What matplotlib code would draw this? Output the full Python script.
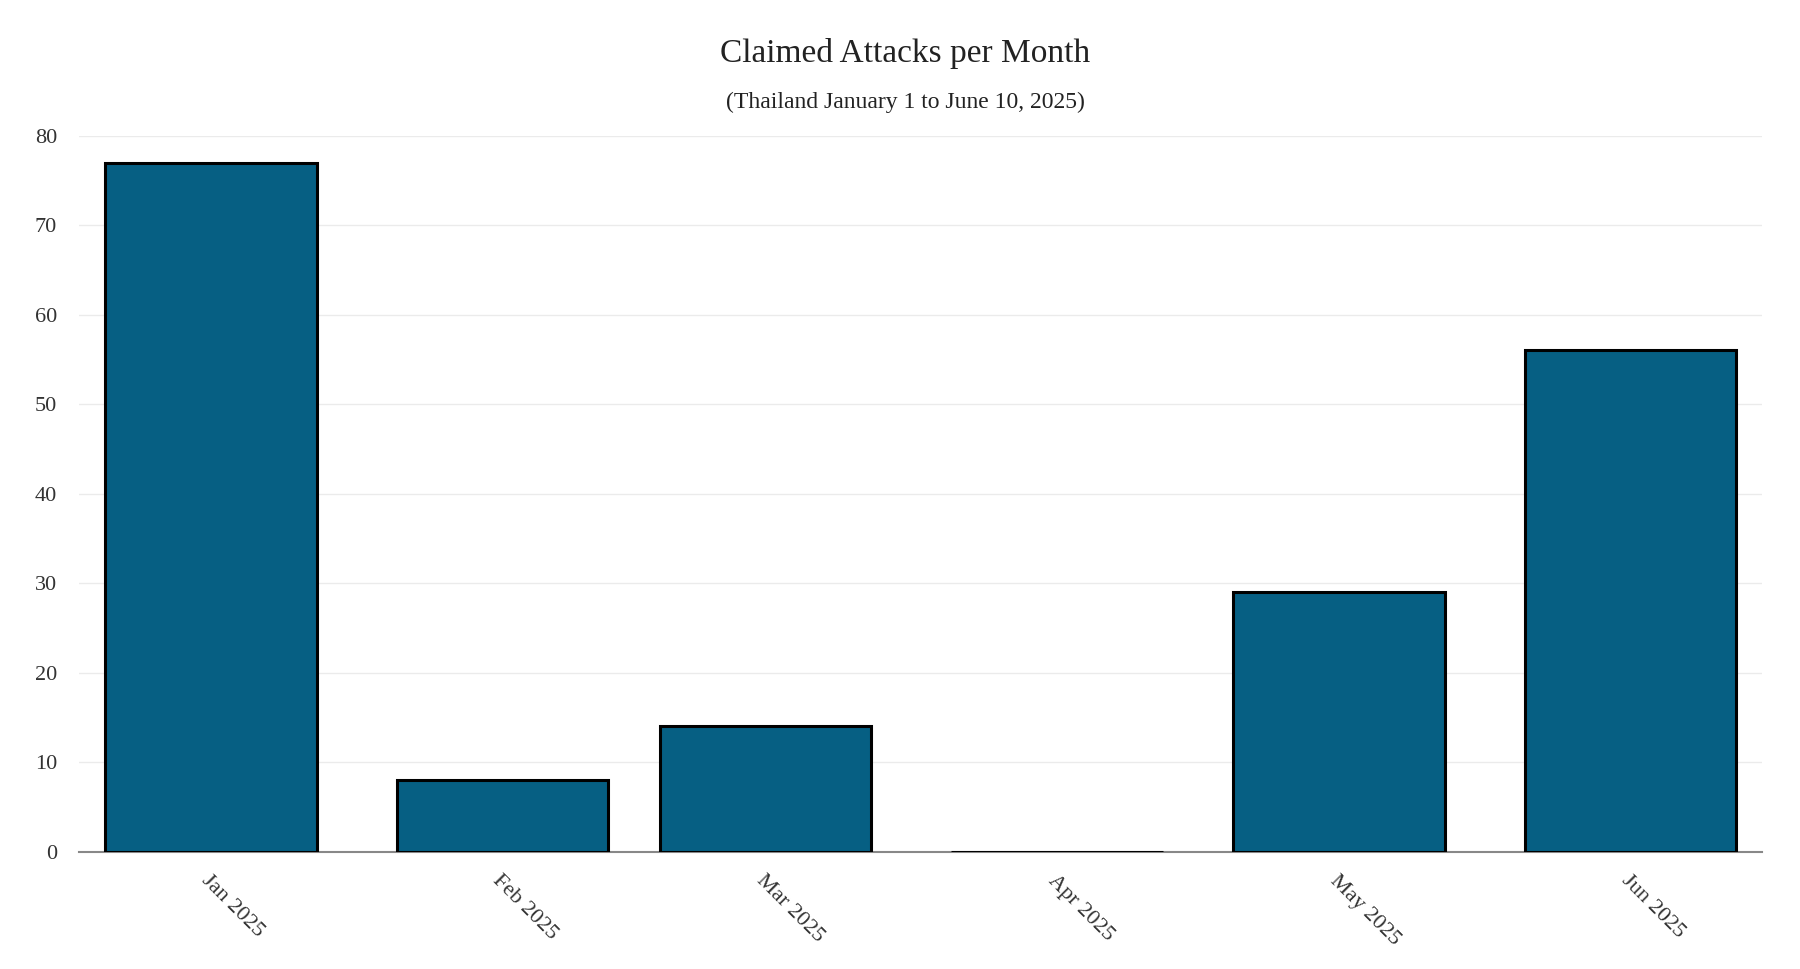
import numpy as np
import matplotlib.pyplot as plt

months = ['Jan 2025', 'Feb 2025', 'Mar 2025', 'Apr 2025', 'May 2025', 'Jun 2025']
month_start_day = [0, 31, 59, 90, 120, 151]   # days from Jan 1
attacks = [77, 8, 14, 0, 29, 56]

plt.rcParams['font.family'] = 'Liberation Serif'

fig = plt.figure(figsize=(18, 9.69), dpi=100)
ax = fig.add_axes([0.044, 0.121, 0.935, 0.739])

ax.bar(month_start_day, attacks, width=22.5, color='#065f83',
       edgecolor='black', linewidth=2.2, zorder=3)

ax.set_xlim(-14, 165)
ax.set_ylim(0, 80)
ax.set_yticks(range(0, 81, 10))
ax.set_xticks(month_start_day)
ax.set_xticklabels(months, rotation=-45, ha='left', rotation_mode='anchor')
ax.tick_params(axis='x', length=0, pad=14, labelsize=16, colors='#333333')
ax.tick_params(axis='y', length=0, pad=16, labelsize=16, colors='#333333')
ax.grid(axis='y', color='#ebebeb', linewidth=1, zorder=0)
for s in ['top', 'right', 'left']:
    ax.spines[s].set_visible(False)
ax.spines['bottom'].set_color('#888888')
ax.spines['bottom'].set_linewidth(1.5)

fig.text(0.503, 0.945, 'Claimed Attacks per Month', ha='center', va='center',
         fontsize=24, color='#222222')
fig.text(0.503, 0.894, '(Thailand January 1 to June 10, 2025)', ha='center',
         va='center', fontsize=17, color='#222222')

fig.savefig('out.png')
